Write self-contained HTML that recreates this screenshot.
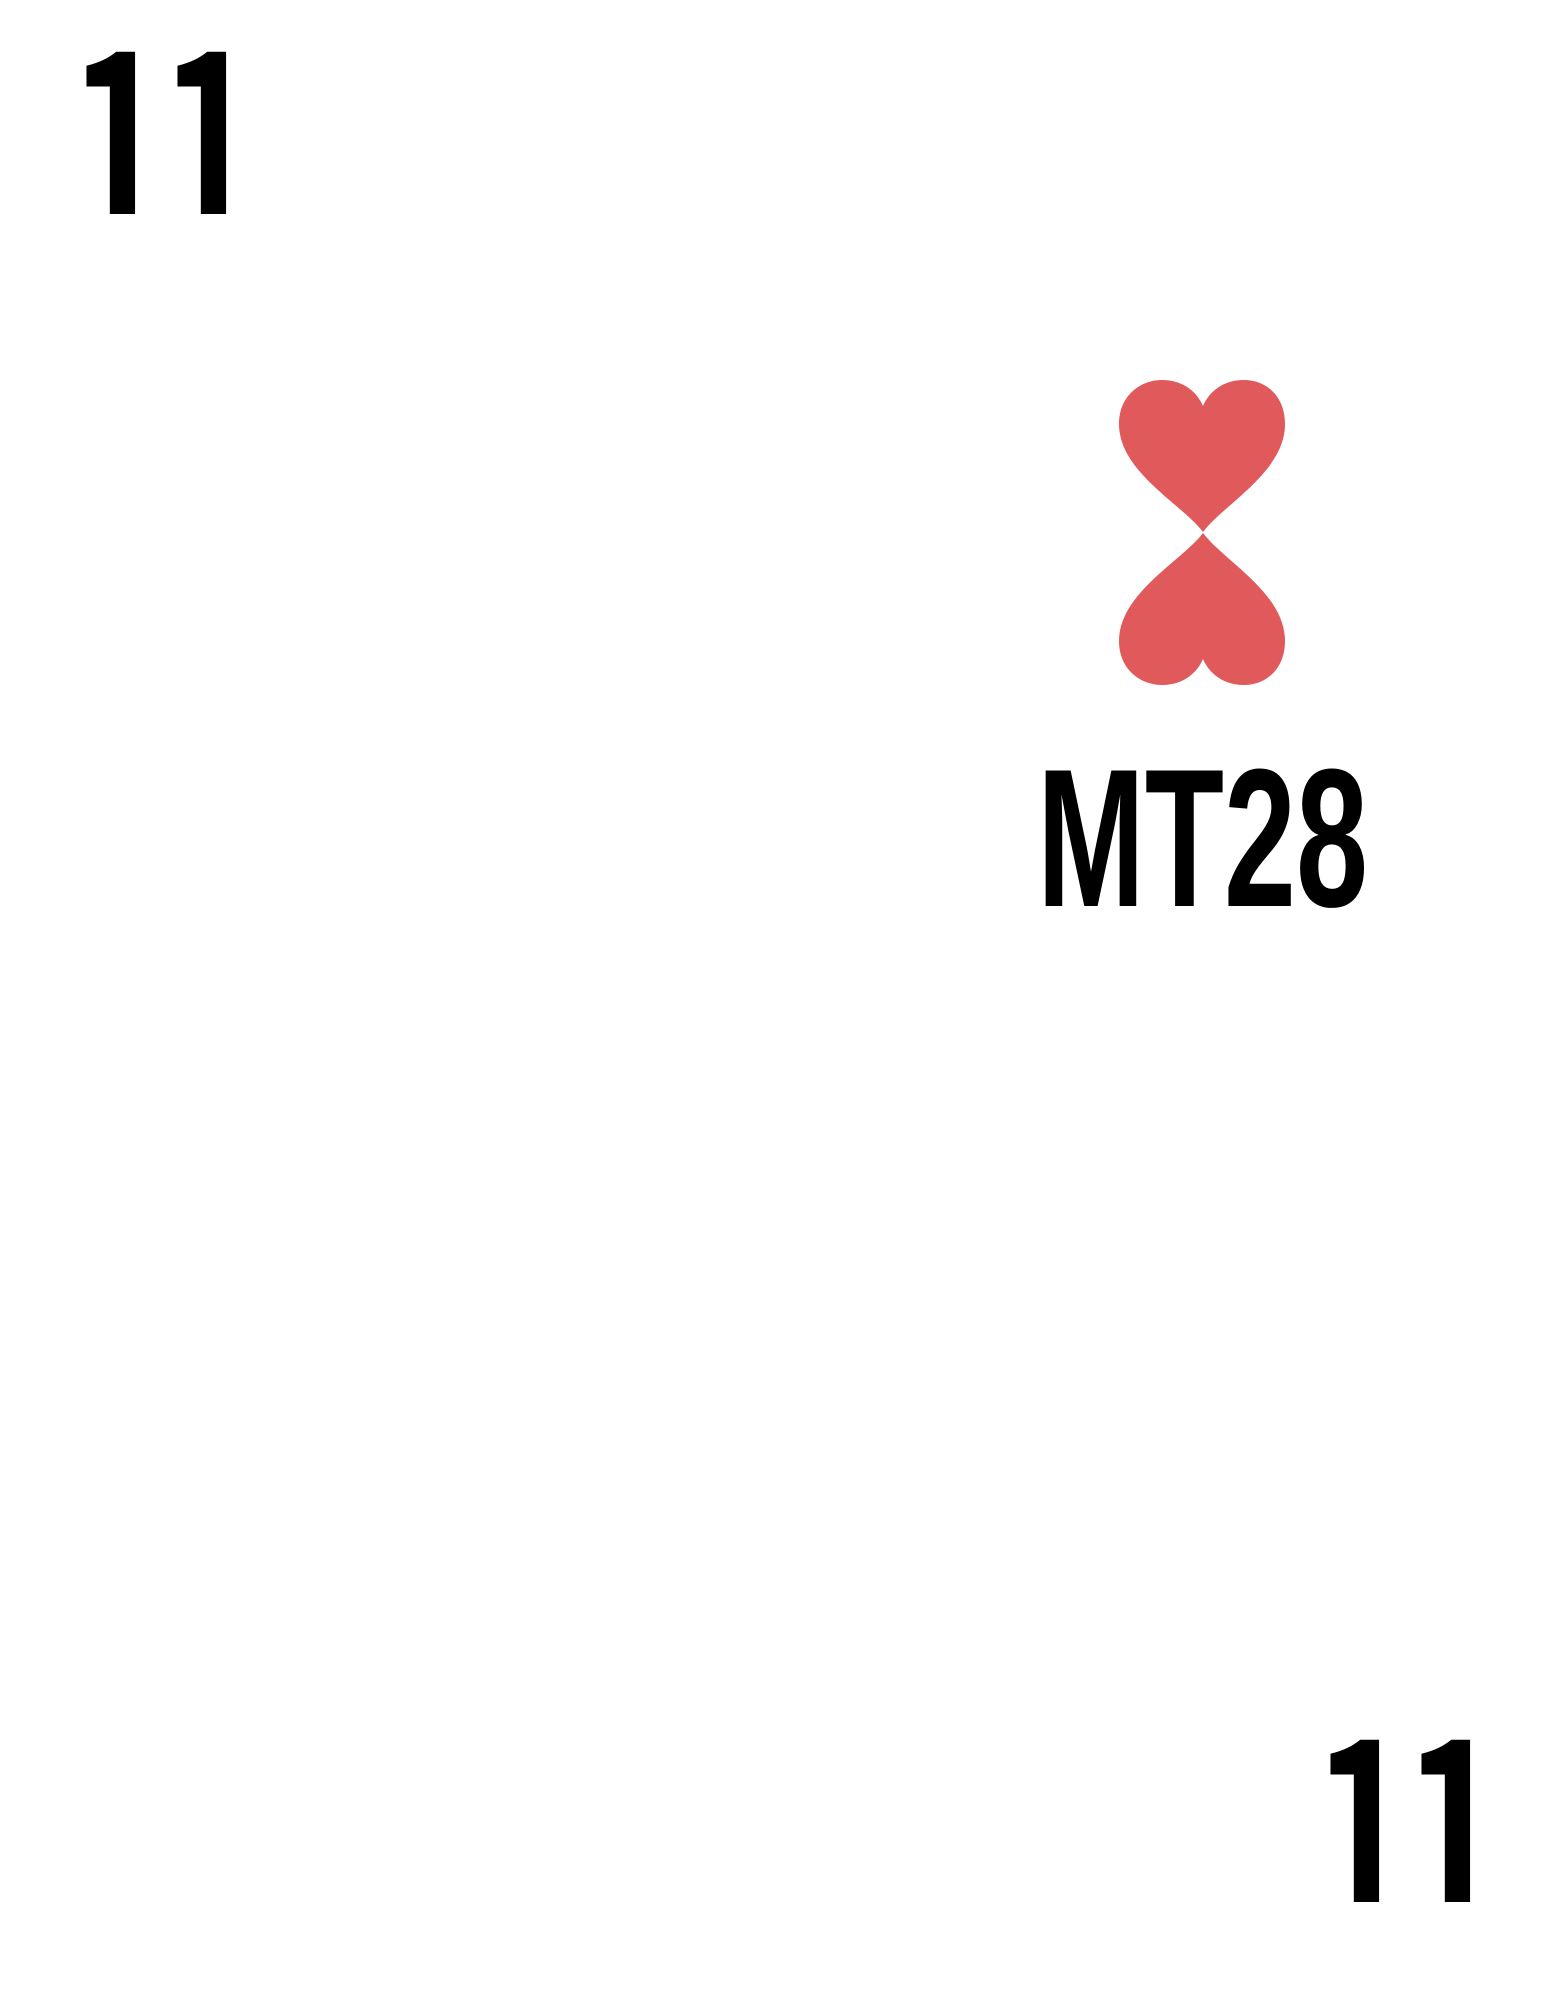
<!DOCTYPE html>
<html><head><meta charset="utf-8"><style>
html,body{margin:0;padding:0;background:#fff;}
svg{display:block;}
text{font-family:"Liberation Sans",sans-serif;font-weight:bold;fill:#000;}
.n{font-family:"Liberation Sans Narrow","Liberation Sans",sans-serif;}
.d{font-family:"Noto Sans CJK JP","Noto Sans CJK SC",sans-serif;font-weight:bold;}
</style></head><body>
<svg width="1556" height="2000" viewBox="0 0 1556 2000">
<defs>
<clipPath id="tA"><rect x="0" y="0" width="400" height="184"/></clipPath>
<clipPath id="tB"><rect x="0" y="184" width="400" height="30"/></clipPath>
<clipPath id="bA"><rect x="1200" y="1600" width="356" height="272"/></clipPath>
<clipPath id="bB"><rect x="1200" y="1872" width="356" height="30"/></clipPath>
</defs>
<rect width="1556" height="2000" fill="#fff"/>
<g>
<g clip-path="url(#tA)">
<text class="d" x="119" y="214" font-size="225" text-anchor="middle" textLength="102" lengthAdjust="spacingAndGlyphs">1</text>
<text class="d" x="210" y="214" font-size="225" text-anchor="middle" textLength="102" lengthAdjust="spacingAndGlyphs">1</text>
</g>
<g clip-path="url(#tB)" aria-hidden="true"><g transform="translate(0,30)">
<text class="d" x="119" y="214" font-size="225" text-anchor="middle" textLength="102" lengthAdjust="spacingAndGlyphs">1</text>
<text class="d" x="210" y="214" font-size="225" text-anchor="middle" textLength="102" lengthAdjust="spacingAndGlyphs">1</text>
</g></g>
</g>
<g>
<g clip-path="url(#bA)">
<text class="d" x="1363" y="1902" font-size="225" text-anchor="middle" textLength="102" lengthAdjust="spacingAndGlyphs">1</text>
<text class="d" x="1454" y="1902" font-size="225" text-anchor="middle" textLength="102" lengthAdjust="spacingAndGlyphs">1</text>
</g>
<g clip-path="url(#bB)" aria-hidden="true"><g transform="translate(0,30)">
<text class="d" x="1363" y="1902" font-size="225" text-anchor="middle" textLength="102" lengthAdjust="spacingAndGlyphs">1</text>
<text class="d" x="1454" y="1902" font-size="225" text-anchor="middle" textLength="102" lengthAdjust="spacingAndGlyphs">1</text>
</g></g>
</g>
<g fill="#e05a5c" transform="translate(10,4)">
<path d="M1193,528 C1172,500 1109,468 1109,420 C1109,392 1130,376 1152,376 C1175,376 1188,390 1193,402 C1198,390 1211,376 1234,376 C1256,376 1275,392 1275,420 C1275,468 1214,500 1193,528 Z"/>
<path transform="translate(0,1057) scale(1,-1)" d="M1193,528 C1172,500 1109,468 1109,420 C1109,392 1130,376 1152,376 C1175,376 1188,390 1193,402 C1198,390 1211,376 1234,376 C1256,376 1275,392 1275,420 C1275,468 1214,500 1193,528 Z"/>
</g>
<text class="n" x="1037" y="906" font-size="197" textLength="331" lengthAdjust="spacingAndGlyphs">MT28</text>
</svg>
</body></html>
